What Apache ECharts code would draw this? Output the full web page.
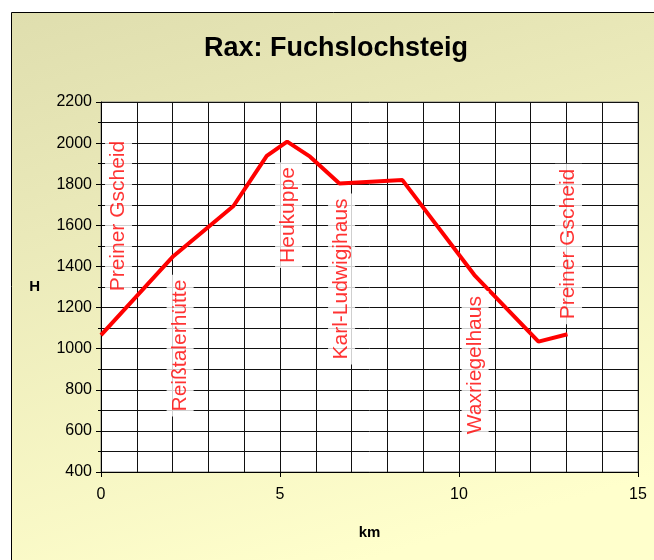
<!DOCTYPE html>
<html>
<head>
<meta charset="utf-8">
<script src="https://cdn.jsdelivr.net/npm/echarts@6/dist/echarts.min.js"></script>
<style>
  html, body { margin: 0; padding: 0; background: #fff; }
  #main { width: 654px; height: 560px; }
</style>
</head>
<body>
<div id="main"></div>
<script>
// Höhenprofil
var km = [0, 2.02, 3.70, 4.63, 5.20, 5.84, 6.66, 8.42, 10.43, 12.22, 13.03];
var hoehe = [1066, 1450, 1694, 1938, 2007, 1934, 1804, 1820, 1358, 1034, 1070];

// Beschriftungen (Ort, Position km, Position H)
var orte = ['Preiner Gscheid', 'Reißtalerhütte', 'Heukuppe', 'Karl-Ludwigjhaus', 'Waxriegelhaus', 'Preiner Gscheid'];
var orteKm = [0.49, 2.21, 5.24, 6.72, 10.45, 13.06];
var orteH = [1645, 1015, 1650, 1339, 920, 1509];

var myChart = echarts.init(document.getElementById('main'));

var linie = km.map(function (x, i) { return [x, hoehe[i]]; });
var punkte = orte.map(function (n, i) { return { name: n, value: [orteKm[i], orteH[i]] }; });

var option = {
  backgroundColor: '#fff',
  animation: false,
  graphic: [{
    type: 'rect',
    z: -100,
    silent: true,
    shape: { x: 11.5, y: 12.5, width: 700, height: 600 },
    style: {
      fill: new echarts.graphic.LinearGradient(0, 0, 0.25, 1, [
        { offset: 0, color: '#DFDEAE' },
        { offset: 0.35, color: '#EAE9B9' },
        { offset: 1, color: '#FFFFCC' }
      ]),
      stroke: '#000',
      lineWidth: 1
    }
  }],
  title: {
    text: 'Rax: Fuchslochsteig',
    left: 204,
    top: 35,
    textStyle: { fontFamily: 'Liberation Sans', fontSize: 27, fontWeight: 'bold', color: '#000' },
    padding: 0
  },
  grid: {
    left: 101, right: 16, top: 102, bottom: 88,
    show: true,
    backgroundColor: '#fff',
    borderColor: '#808080',
    borderWidth: 1
  },
  xAxis: {
    type: 'value',
    min: 0, max: 15, interval: 5,
    name: 'km',
    nameLocation: 'middle',
    nameGap: 53,
    nameTextStyle: { fontFamily: 'Liberation Sans', fontSize: 15, fontWeight: 'bold', color: '#000' },
    axisLine: { show: true, lineStyle: { color: '#000', width: 1 } },
    axisTick: { show: true, length: 5, lineStyle: { color: '#000' } },
    axisLabel: { fontFamily: 'Liberation Sans', fontSize: 16, color: '#000', margin: 15 },
    splitLine: { show: true, lineStyle: { color: '#111', width: 1 } },
    minorTick: { show: false, splitNumber: 5 },
    minorSplitLine: { show: true, lineStyle: { color: '#111', width: 1 } }
  },
  yAxis: {
    type: 'value',
    min: 400, max: 2200, interval: 200,
    name: 'H',
    nameLocation: 'middle',
    nameRotate: 0,
    nameGap: 61,
    nameTextStyle: { fontFamily: 'Liberation Sans', fontSize: 15, fontWeight: 'bold', color: '#000' },
    axisLine: { show: true, lineStyle: { color: '#000', width: 1 } },
    axisTick: { show: true, length: 5, lineStyle: { color: '#000' } },
    axisLabel: {
      fontFamily: 'Liberation Sans', fontSize: 16, color: '#000', margin: 9,
      formatter: function (v) { return String(v); }
    },
    splitLine: { show: true, lineStyle: { color: '#111', width: 1 } },
    minorTick: { show: true, splitNumber: 2, length: 3, lineStyle: { color: '#000' } },
    minorSplitLine: { show: true, lineStyle: { color: '#111', width: 1 } }
  },
  series: [
    {
      type: 'line',
      data: linie,
      symbol: 'none',
      lineStyle: { color: '#FF0000', width: 4 },
      z: 3
    },
    {
      type: 'scatter',
      data: punkte,
      symbolSize: 1,
      itemStyle: { color: 'rgba(0,0,0,0)' },
      z: 4,
      label: {
        show: true,
        position: 'inside',
        formatter: '{b}',
        rotate: 90,
        align: 'center',
        verticalAlign: 'middle',
        color: '#FF0000',
        fontFamily: 'Liberation Sans',
        fontSize: 21,
        backgroundColor: '#fff',
        padding: [3, 5]
      }
    }
  ]
};

myChart.setOption(option);
</script>
</body>
</html>
